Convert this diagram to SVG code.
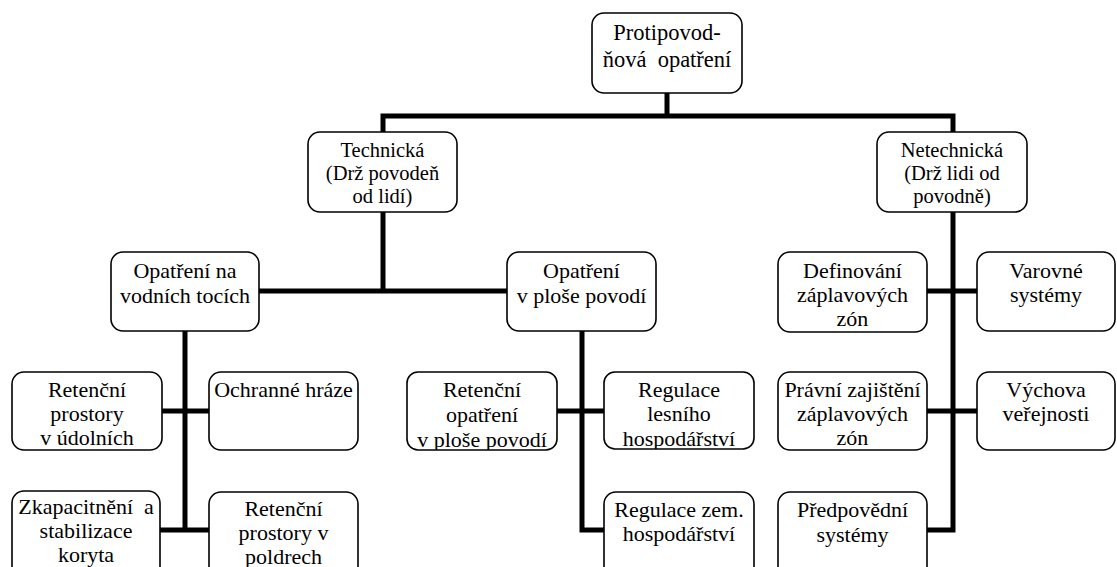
<svg xmlns="http://www.w3.org/2000/svg" width="1117" height="567" viewBox="0 0 1117 567">
<style>
.box{fill:#fff;stroke:#000;stroke-width:1.6}
.t{font-family:'Liberation Serif','DejaVu Serif',serif;font-size:22px;fill:#000;text-anchor:middle;white-space:pre}
.root{font-size:22.5px}
.s{font-size:20.5px}
.c{stroke:#000;stroke-width:5;fill:none;stroke-linecap:butt}
</style>
<defs>
<clipPath id="cRetOp"><rect x="407" y="372" width="150" height="78" rx="11"/></clipPath>
<clipPath id="cRegL"><rect x="604" y="372" width="150" height="77" rx="11"/></clipPath>
</defs>
<rect width="1117" height="567" fill="#fff"/>
<g id="connectors">
<path class="c" d="M667 93V116M383 116H953M383 113.5V132M953 113.5V132"/>
<path class="c" d="M383 212V291M259 291H507"/>
<path class="c" d="M185 331V532M162 411H209M160 530H209"/>
<path class="c" d="M582 331V532M557 411H604M579.5 530H604"/>
<path class="c" d="M953 212V532M927 291H977M927 411H977M927 530H955.5"/>
</g>
<g id="root"><rect class="box" x="592" y="13" width="150" height="80" rx="12"/>
<text class="t root" x="667" y="40">Protipovod-</text>
<text class="t root" x="667" y="67">ňová  opatření</text></g>
<g id="technicka"><rect class="box" x="308" y="132" width="149" height="80" rx="12"/>
<text class="t s" x="382.5" y="157">Technická</text>
<text class="t s" x="382.5" y="180">(Drž povodeň</text>
<text class="t s" x="382.5" y="203">od lidí)</text></g>
<g id="netechnicka"><rect class="box" x="877" y="132" width="150" height="80" rx="12"/>
<text class="t s" x="952" y="157">Netechnická</text>
<text class="t s" x="952" y="180">(Drž lidi od</text>
<text class="t s" x="952" y="203">povodně)</text></g>
<g id="vodni-toky"><rect class="box" x="111" y="252" width="148" height="79" rx="12"/>
<text class="t" x="185" y="278">Opatření na</text>
<text class="t" x="185" y="303">vodních tocích</text></g>
<g id="plocha-povodi"><rect class="box" x="507" y="252" width="149" height="79" rx="12"/>
<text class="t" x="581.5" y="278">Opatření</text>
<text class="t" x="581.5" y="303">v ploše povodí</text></g>
<g id="retencni-udolni"><rect class="box" x="12" y="372" width="150" height="78" rx="12"/>
<text class="t" x="87" y="397">Retenční</text>
<text class="t" x="87" y="421">prostory</text>
<text class="t" x="87" y="445">v údolních</text></g>
<g id="ochranne-hraze"><rect class="box" x="209" y="372" width="149" height="78" rx="12"/>
<text class="t" x="283.5" y="397">Ochranné hráze</text></g>
<g id="zkapacitneni"><rect class="box" x="12" y="491" width="148" height="90" rx="12"/>
<text class="t" x="86" y="514">Zkapacitnění  a</text>
<text class="t" x="86" y="538">stabilizace</text>
<text class="t" x="86" y="562">koryta</text></g>
<g id="retencni-poldry"><rect class="box" x="209" y="492" width="149" height="90" rx="12"/>
<text class="t" x="283.5" y="516">Retenční</text>
<text class="t" x="283.5" y="540">prostory v</text>
<text class="t" x="283.5" y="564">poldrech</text></g>
<g id="retencni-opatreni"><rect class="box" x="407" y="372" width="150" height="78" rx="11"/>
<g clip-path="url(#cRetOp)">
<text class="t" x="482" y="397">Retenční</text>
<text class="t" x="482" y="422">opatření</text>
<text class="t" x="482" y="447">v ploše povodí</text></g></g>
<g id="regulace-lesni"><rect class="box" x="604" y="372" width="150" height="77" rx="11"/>
<g clip-path="url(#cRegL)">
<text class="t" x="679" y="397">Regulace</text>
<text class="t" x="679" y="421">lesního</text>
<text class="t" x="679" y="446">hospodářství</text></g></g>
<g id="regulace-zem"><rect class="box" x="604" y="492" width="150" height="90" rx="12"/>
<text class="t" x="679" y="517">Regulace zem.</text>
<text class="t" x="679" y="541">hospodářství</text></g>
<g id="definovani"><rect class="box" x="778" y="252" width="149" height="80" rx="12"/>
<text class="t" x="852.5" y="278">Definování</text>
<text class="t" x="852.5" y="302">záplavových</text>
<text class="t" x="852.5" y="326">zón</text></g>
<g id="varovne"><rect class="box" x="977" y="252" width="138" height="79" rx="12"/>
<text class="t" x="1046" y="278">Varovné</text>
<text class="t" x="1046" y="302">systémy</text></g>
<g id="pravni"><rect class="box" x="778" y="372" width="149" height="78" rx="12"/>
<text class="t" x="852.5" y="397">Právní zajištění</text>
<text class="t" x="852.5" y="421">záplavových</text>
<text class="t" x="852.5" y="445">zón</text></g>
<g id="vychova"><rect class="box" x="977" y="372" width="138" height="78" rx="12"/>
<text class="t" x="1046" y="397">Výchova</text>
<text class="t" x="1046" y="421">veřejnosti</text></g>
<g id="predpovedni"><rect class="box" x="778" y="492" width="149" height="90" rx="12"/>
<text class="t" x="852.5" y="517">Předpovědní</text>
<text class="t" x="852.5" y="542">systémy</text></g>
</svg>
